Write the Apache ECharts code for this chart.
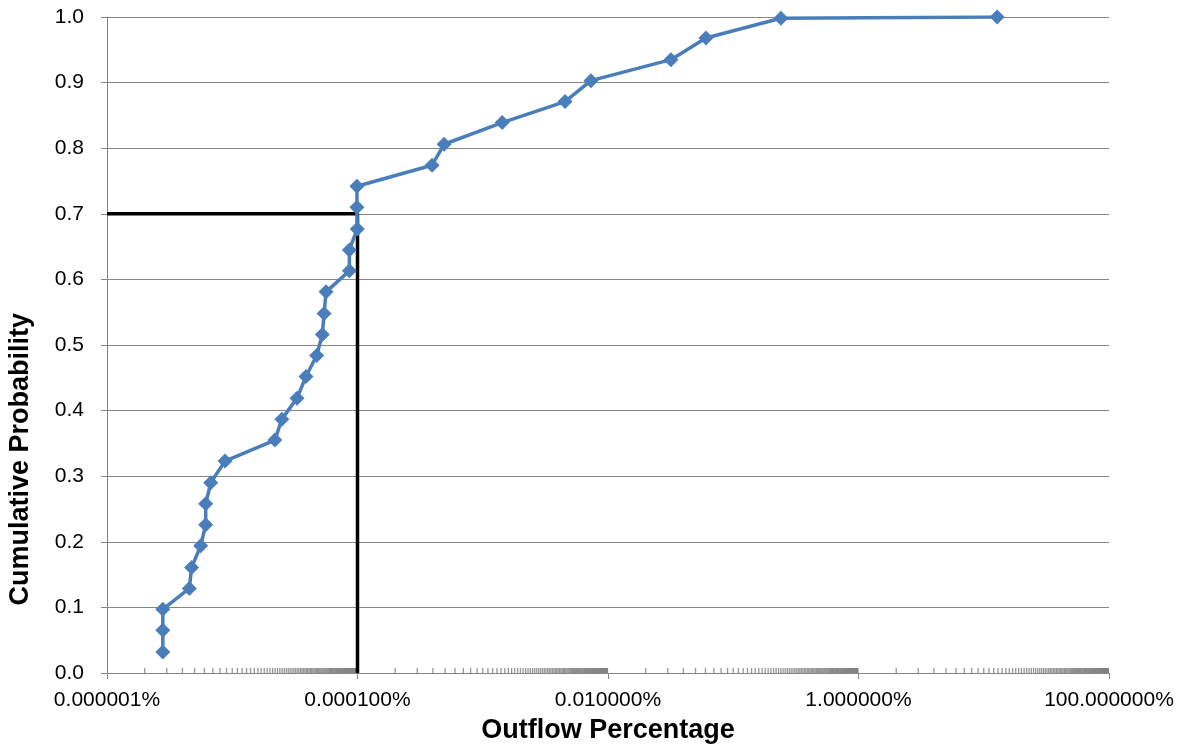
<!DOCTYPE html>
<html>
<head>
<meta charset="utf-8">
<script src="https://cdn.jsdelivr.net/npm/echarts@6/dist/echarts.min.js"></script>
<style>html,body{margin:0;padding:0;background:#fff}#c{width:1187px;height:746px}</style>
</head>
<body>
<div id="c"></div>
<script>
// Outflow percentage (in %) for each observation
const outflowPct = [2.79e-6, 2.79e-6, 2.79e-6, 4.54e-6, 4.74e-6, 5.60e-6, 6.14e-6, 6.14e-6,
  6.73e-6, 8.75e-6, 2.19e-5, 2.49e-5, 3.29e-5, 3.88e-5, 4.72e-5, 5.24e-5, 5.41e-5, 5.61e-5,
  8.61e-5, 8.61e-5, 9.95e-5, 9.9e-5, 9.9e-5, 3.94e-4, 4.91e-4, 1.43e-3, 4.54e-3, 7.31e-3,
  3.18e-2, 6.05e-2, 0.240, 12.8];
// Cumulative probability
const cumProb = [0.032, 0.065, 0.097, 0.129, 0.161, 0.194, 0.226, 0.258, 0.290, 0.323,
  0.355, 0.387, 0.419, 0.452, 0.484, 0.516, 0.548, 0.581, 0.613, 0.645, 0.677, 0.710,
  0.742, 0.774, 0.806, 0.839, 0.871, 0.903, 0.935, 0.968, 0.998, 1.000];
// Reference line (70% probability -> 0.0001% outflow)
const refLineX = [1e-6, 1e-4, 1e-4];
const refLineY = [0.7, 0.7, 0];
// Axis settings / tick labels
const xMin = 1e-6, xMax = 100;
const xMajorTicks = [1e-6, 1e-4, 1e-2, 1, 100];
const yMin = 0, yMax = 1, yStep = 0.1;
const majorDecades = [-6, -4, -2, 0];
const minorMultipliers = [];
for (let k = 2; k <= 99; k++) minorMultipliers.push(k);

const seriesData = outflowPct.map((x, i) => [x, cumProb[i]]);
const refData = refLineX.map((x, i) => [x, refLineY[i]]);
const minorTicks = [];
majorDecades.forEach(e => minorMultipliers.forEach(k => minorTicks.push([k * Math.pow(10, e), 0])));

const grey = '#868686';
const font = 'Liberation Sans';
const chart = echarts.init(document.getElementById('c'), null, {renderer: 'canvas'});
chart.setOption({
  animation: false,
  backgroundColor: '#fff',
  grid: {left: 107, right: 78, top: 17, bottom: 73, containLabel: false, outerBoundsMode: 'none'},
  graphic: [{
    type: 'text', left: 7, top: 313, rotation: Math.PI / 2,
    style: {text: 'Cumulative Probability', font: 'bold 27px "Liberation Sans"', fill: '#000'}
  }],
  xAxis: {
    type: 'log', logBase: 10, min: xMin, max: xMax,
    name: 'Outflow Percentage', nameLocation: 'middle', nameGap: 44,
    nameTextStyle: {fontFamily: font, fontWeight: 'bold', fontSize: 27, color: '#000'},
    axisLine: {lineStyle: {color: grey, width: 1}},
    axisTick: {show: true, length: 6, customValues: xMajorTicks, lineStyle: {color: grey, width: 1}},
    axisLabel: {fontFamily: font, fontSize: 21, color: '#000', margin: 17, customValues: xMajorTicks,
      showMinLabel: true, showMaxLabel: true,
      formatter: v => Number(v).toFixed(6) + '%'},
    splitLine: {show: false}
  },
  yAxis: {
    type: 'value', min: yMin, max: yMax, interval: yStep,
    axisLine: {show: true, lineStyle: {color: grey, width: 1}},
    axisTick: {show: true, length: 6, lineStyle: {color: grey, width: 1}},
    axisLabel: {fontFamily: font, fontSize: 21, color: '#000', margin: 23, formatter: v => Number(v).toFixed(1)},
    splitLine: {show: true, lineStyle: {color: grey, width: 1}}
  },
  series: [
    {
      type: 'scatter', data: minorTicks, symbol: 'rect', symbolSize: [1.3, 5], symbolOffset: [0, -2.5],
      itemStyle: {color: '#7a7a7a'}, silent: true, clip: false, z: 1
    },
    {
      type: 'line', data: refData, symbol: 'none', lineStyle: {color: '#000', width: 3.5},
      silent: true, z: 2
    },
    {
      type: 'line', data: seriesData, symbol: 'diamond', symbolSize: 15, showAllSymbol: true,
      lineStyle: {color: '#4A7EBB', width: 3.5}, itemStyle: {color: '#4A7EBB'}, z: 3
    }
  ]
});
</script>
</body>
</html>
